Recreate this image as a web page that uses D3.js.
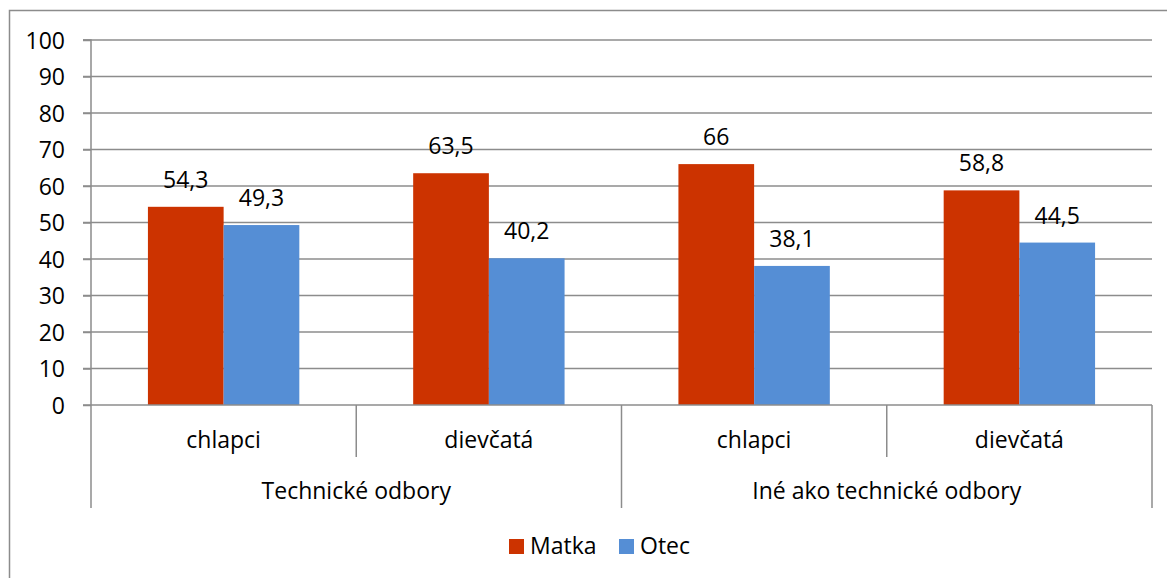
<!DOCTYPE html>
<html><head><meta charset="utf-8">
<script src="https://cdn.jsdelivr.net/npm/d3@7"></script>
<style>html,body{margin:0;padding:0;background:#fff;}svg{display:block;}</style>
</head><body>
<svg id="chart" width="1167" height="578"></svg>
<script>
const groups = ["Technické odbory", "Iné ako technické odbory"];
const subcats = ["chlapci", "dievčatá"];
const categories = ["Technické odbory|chlapci", "Technické odbory|dievčatá", "Iné ako technické odbory|chlapci", "Iné ako technické odbory|dievčatá"];
const seriesNames = ["Matka", "Otec"];
const matka = [54.3, 63.5, 66, 58.8];
const otec = [49.3, 40.2, 38.1, 44.5];
const yTicks = [0, 10, 20, 30, 40, 50, 60, 70, 80, 90, 100];
const colors = ["#CC3300", "#558ED5"];

(function () {
const font = "'Open Sans', sans-serif";
const fs = 23;
const svg = d3.select("#chart");
const gridCol = "#8c8c8c";

// outer border (extends beyond viewport at right and bottom)
svg.append("rect").attr("x", 9.5).attr("y", 10.5).attr("width", 1200).attr("height", 600)
  .attr("fill", "none").attr("stroke", gridCol).attr("stroke-width", 1.5);

const pLeft = 91, pRight = 1152, pTop = 40, pBottom = 405;
const x = d3.scaleBand().domain(categories).range([pLeft, pRight]).paddingInner(0).paddingOuter(0);
const y = d3.scaleLinear().domain([0, 100]).range([pBottom, pTop]);
const inner = d3.scaleBand().domain(seriesNames).range([0, x.bandwidth()]).paddingInner(0).paddingOuter(0.752);

// gridlines
svg.append("g").selectAll("line").data(yTicks.filter(d => d > 0)).join("line")
  .attr("x1", pLeft - 8).attr("x2", pRight).attr("y1", d => y(d)).attr("y2", d => y(d))
  .attr("stroke", gridCol).attr("stroke-width", 1.5);

// y axis
const yAxis = d3.axisLeft(y).tickValues(yTicks).tickSize(8).tickPadding(18).tickFormat(d3.format("d"));
const ga = svg.append("g").attr("transform", `translate(${pLeft},0)`).call(yAxis);
ga.select(".domain").attr("stroke", gridCol).attr("stroke-width", 1.5).attr("d", `M-8,${y(100)}H0V${pBottom}`);
ga.selectAll(".tick line").attr("stroke", gridCol).attr("stroke-width", 1.5);
ga.selectAll(".tick text").attr("font-family", font).attr("font-size", fs).attr("fill", "#000").attr("dy", "0.35em");

// bars
const data = categories.map((c, i) => ({cat: c, vals: [matka[i], otec[i]]}));
const gb = svg.append("g");
data.forEach(d => {
  d.vals.forEach((v, j) => {
    const bx = x(d.cat) + inner(seriesNames[j]);
    gb.append("rect").attr("x", bx).attr("y", y(v)).attr("width", inner.bandwidth())
      .attr("height", y(0) - y(v)).attr("fill", colors[j]);
    gb.append("text").attr("x", bx + inner.bandwidth() / 2).attr("y", y(v) - 19)
      .attr("text-anchor", "middle").attr("font-family", font).attr("font-size", fs)
      .attr("fill", "#000").text(String(v).replace(".", ","));
  });
});

// x axis baseline
svg.append("line").attr("x1", pLeft - 8).attr("x2", pRight).attr("y1", pBottom).attr("y2", pBottom)
  .attr("stroke", gridCol).attr("stroke-width", 1.5);

// category separators
const gx = svg.append("g");
categories.forEach((c, i) => {
  const xx = x(c);
  const isGroupEdge = i % subcats.length === 0;
  gx.append("line").attr("x1", xx).attr("x2", xx).attr("y1", pBottom).attr("y2", isGroupEdge ? 508 : 457)
    .attr("stroke", gridCol).attr("stroke-width", 1.5);
  gx.append("text").attr("x", xx + x.bandwidth() / 2).attr("y", 448).attr("text-anchor", "middle")
    .attr("font-family", font).attr("font-size", fs).attr("fill", "#000").text(c.split("|")[1]);
});
gx.append("line").attr("x1", pRight).attr("x2", pRight).attr("y1", pBottom).attr("y2", 508)
  .attr("stroke", gridCol).attr("stroke-width", 1.5);
groups.forEach((g, gi) => {
  const start = x(categories[gi * subcats.length]);
  const end = x(categories[gi * subcats.length + subcats.length - 1]) + x.bandwidth();
  gx.append("text").attr("x", (start + end) / 2).attr("y", 499).attr("text-anchor", "middle")
    .attr("font-family", font).attr("font-size", fs).attr("fill", "#000").text(g);
});

// legend
const legendX = [509, 619];
const lg = svg.append("g");
seriesNames.forEach((s, i) => {
  lg.append("rect").attr("x", legendX[i]).attr("y", 539).attr("width", 15).attr("height", 15).attr("fill", colors[i]);
  lg.append("text").attr("x", legendX[i] + 21).attr("y", 554).attr("font-family", font).attr("font-size", fs)
    .attr("fill", "#000").text(s);
});
})();
</script>
</body></html>
